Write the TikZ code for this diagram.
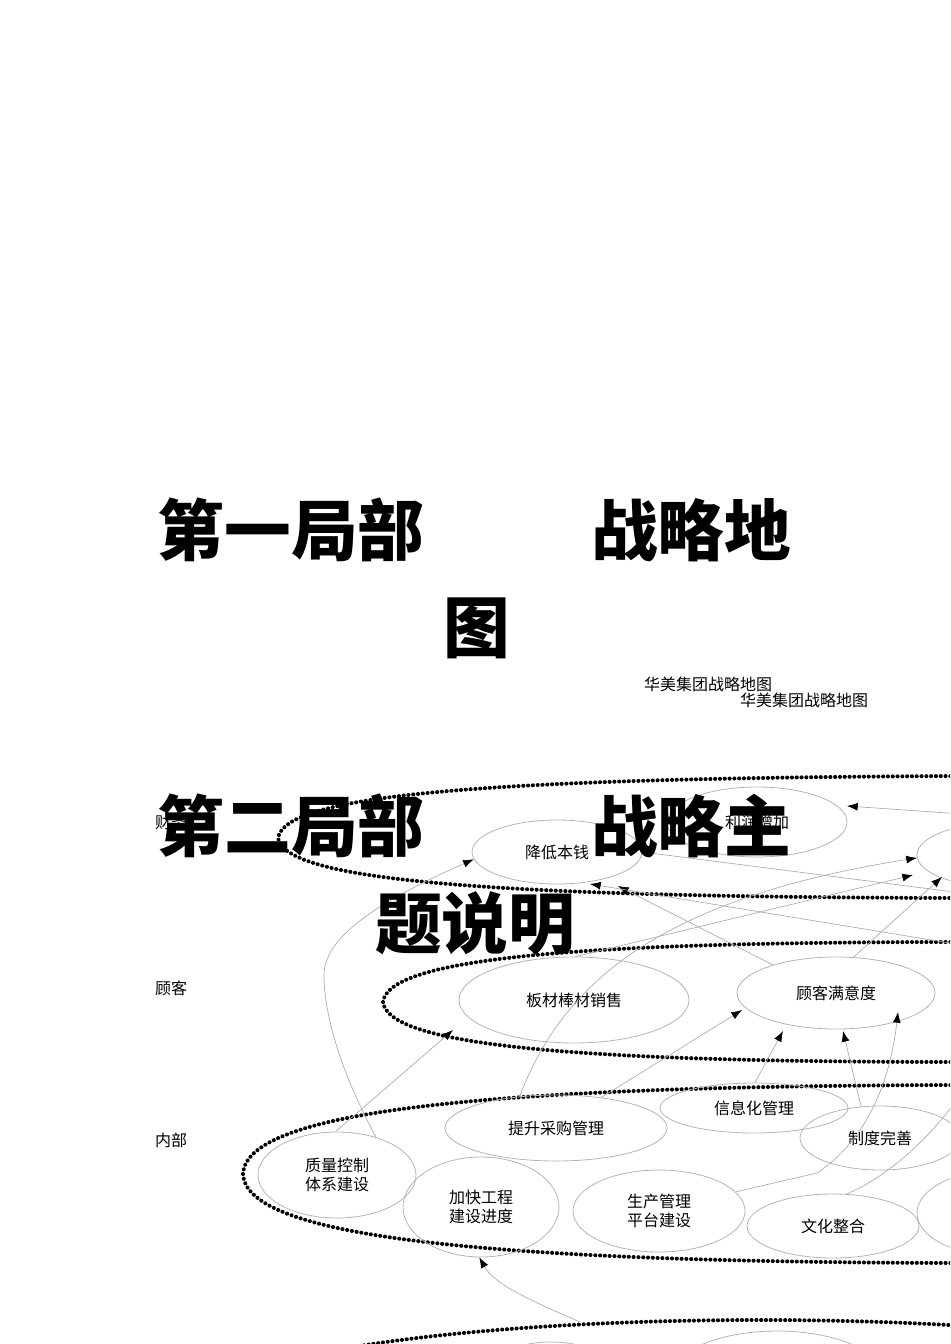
\documentclass[tikz,border=0pt]{standalone}
\usepackage{fontspec}
\setmainfont{Noto Sans CJK SC}
\usetikzlibrary{shapes.geometric,arrows.meta}
\definecolor{ndgray}{HTML}{B4B4B4}
\definecolor{lngray}{HTML}{ABABAB}
\begin{document}
\begin{tikzpicture}[x=0.75pt,y=-0.75pt,
  nd/.style={ellipse,draw=ndgray,line width=0.6pt,inner sep=0pt,align=center,
    font=\fontsize{12}{14.3}\selectfont,text=black},
  lay/.style={draw=black,line width=3pt,dash pattern=on 0.1pt off 3.5pt,line cap=round},
  con/.style={draw=lngray,line width=0.5pt,-{Latex[length=8pt,width=6pt,color=black]}},
  plainln/.style={draw=lngray,line width=0.5pt},
  ttl/.style={font=\fontsize{50}{60}\selectfont\bfseries,inner sep=0pt,text=black},
  sub/.style={font=\fontsize{12}{14}\selectfont,inner sep=0pt,text=black},
  lbl/.style={font=\fontsize{12}{14}\selectfont,inner sep=0pt,text=black}]
\useasboundingbox (0,0) rectangle (950,1344);
\clip (0,0) rectangle (950,1344);

% perspective layers
\draw[lay] (960,776) .. controls (480,778) and (285,795) .. (278,838)
                     .. controls (285,880) and (480,897) .. (960,898);
\draw[lay] (960,942) .. controls (560,942) and (388,960) .. (383,1002)
                     .. controls (388,1044) and (560,1062) .. (960,1062);
\draw[lay] (960,1085) .. controls (450,1086) and (246,1115) .. (243,1174)
                      .. controls (246,1233) and (450,1262) .. (960,1263);
\draw[lay] (760,1400) ellipse [x radius=543, y radius=80];

% objectives
\node[nd,minimum width=127.5pt,minimum height=48pt] (jiang) at (557,852) {降低本钱};
\node[nd,minimum width=135pt,minimum height=52.5pt] (lirun) at (757,822) {利润增加};
\node[nd,minimum width=124.5pt,minimum height=48pt] (rfin) at (1000,855) {};
\node[nd,minimum width=172.5pt,minimum height=64.5pt] (banc) at (574,1000) {板材棒材销售};
\node[nd,minimum width=148.5pt,minimum height=54pt] (gkmy) at (836,993) {顾客满意度};
\node[nd,minimum width=166.5pt,minimum height=49.5pt] (tisheng) at (556,1128) {提升采购管理};
\node[nd,minimum width=141pt,minimum height=37.5pt] (xinxi) at (754,1108) {信息化管理};
\node[nd,minimum width=120pt,minimum height=48pt] (zhidu) at (880,1138) {制度完善};
\node[nd,minimum width=118.5pt,minimum height=64.5pt] (zhiliang) at (337,1175) {质量控制\\体系建设};
\node[nd,minimum width=117pt,minimum height=75pt] (jiakuai) at (481,1207) {加快工程\\建设进度};
\node[nd,minimum width=129pt,minimum height=61.5pt] (shengchan) at (659,1211) {生产管理\\平台建设};
\node[nd,minimum width=129pt,minimum height=48pt] (wenhua) at (833,1226) {文化整合};
\node[nd,minimum width=124.5pt,minimum height=64.5pt] (rint) at (1000,1213) {};
\node[nd,minimum width=120pt,minimum height=75pt] (bl1) at (551,1392) {};
\node[nd,minimum width=165pt,minimum height=75pt] (bl2) at (777,1381) {};

% free ends of connectors
\coordinate (t2) at (453,1030);
\coordinate (t3) at (618,886);
\coordinate (t4) at (590,884);
\coordinate (o4) at (962,945);
\coordinate (o5) at (962,893);
\coordinate (t7) at (913,875);
\coordinate (t8) at (742,1010);
\coordinate (t9) at (783,1031);
\coordinate (t10) at (843,1031);
\coordinate (t11) at (898,1012);
\coordinate (o12) at (962,1092);
\coordinate (t13) at (942,877);
\coordinate (t14) at (847,806);
\coordinate (o14) at (962,814);
\coordinate (s16) at (580,1322);

% connectors
\draw[con] (zhiliang.44) .. controls (345,1080) and (324,1020) .. (324,975)
           .. controls (324,940) and (370,905) .. (jiang.185);
\draw[con] (zhiliang.92) -- (t2);
\draw[con] (gkmy.156) -- (t3);
\draw[con] (o4) -- (t4);
\draw[plainln] (jiang.0) -- (o5);
\draw[con] (tisheng.139) .. controls (560,990) and (650,900) .. (rfin.182);
\draw[con] (banc.88) -- (t7);
\draw[con] (tisheng.34) -- (t8);
\draw[con] (xinxi.88) -- (t9);
\draw[con] (zhidu.121) -- (t10);
\draw[con] (shengchan.14) -- (817,1173) .. controls (855,1148) and (888,1100) .. (t11);
\draw[plainln] (wenhua.67) .. controls (885,1178) and (930,1140) .. (o12);
\draw[con] (gkmy.64) -- (t13);
\draw[con] (o14) -- (t14);
\draw[con] (s16) .. controls (530,1300) and (495,1285) .. (jiakuai.268);

% perspective labels
\node[lbl] (lcw) at (171,822) {财务};
\node[lbl] (lgk) at (171,988) {顾客};
\node[lbl] (lnb) at (171,1140) {内部};

% subtitles
\node[sub] (s1) at (708,684) {华美集团战略地图};
\node[sub] (s2) at (804,700) {华美集团战略地图};

% headings
\node[ttl] (h1a) at (291,530) {第一局部};
\node[ttl] (h1b) at (691,530) {战略地};
\node[ttl] (h1c) at (477,628) {图};
\node[ttl] (h2a) at (291,826) {第二局部};
\node[ttl] (h2b) at (691,826) {战略主};
\node[ttl] (h2c) at (475,923) {题说明};
\end{tikzpicture}
\end{document}
